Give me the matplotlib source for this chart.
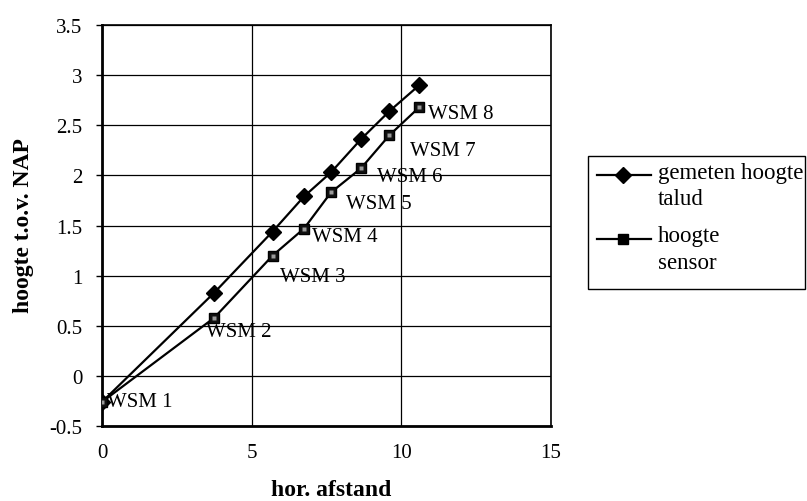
import matplotlib
matplotlib.use("Agg")
import matplotlib.pyplot as plt
from matplotlib.lines import Line2D
from matplotlib.patches import Rectangle

plt.rcParams['font.family'] = ['Liberation Serif', 'DejaVu Serif']

# data
x_afstand = [0.0, 3.75, 5.7, 6.75, 7.65, 8.65, 9.6, 10.6]
gemeten_hoogte = [-0.26, 0.83, 1.44, 1.79, 2.03, 2.36, 2.64, 2.90]
hoogte_sensor = [-0.26, 0.58, 1.20, 1.47, 1.83, 2.07, 2.40, 2.68]
wsm_labels = ["WSM 1", "WSM 2", "WSM 3", "WSM 4", "WSM 5", "WSM 6", "WSM 7", "WSM 8"]
x_ticks = [0, 5, 10, 15]
y_ticks = [-0.5, 0, 0.5, 1, 1.5, 2, 2.5, 3, 3.5]
y_ticklabels = ["-0.5", "0", "0.5", "1", "1.5", "2", "2.5", "3", "3.5"]
legend_lines = [["gemeten hoogte", "talud"], ["hoogte", "sensor"]]

W, H = 807, 502
fig = plt.figure(figsize=(W / 100, H / 100), dpi=100)
L, R, T, B = 102, 551, 26, 427
ax = fig.add_axes([L / W, 1 - B / H, (R - L) / W, (B - T) / H])

ax.set_xlim(0, 15)
ax.set_ylim(-0.5, 3.5)
ax.set_xticks(x_ticks)
ax.set_xticklabels([str(t) for t in x_ticks])
ax.set_yticks(y_ticks)
ax.set_yticklabels(y_ticklabels)
ax.grid(True, color='black', linewidth=0.9)
ax.set_axisbelow(True)

for s in ['left', 'bottom']:
    ax.spines[s].set_linewidth(2.0)
for s in ['top', 'right']:
    ax.spines[s].set_linewidth(1.2)
ax.tick_params(axis='y', direction='out', length=4, width=1, pad=10, labelsize=15)
ax.tick_params(axis='x', direction='out', length=0, pad=12, labelsize=15)

lw = 1.6
ax.plot(x_afstand, gemeten_hoogte, color='black', linewidth=lw, marker='D',
        markersize=8, markerfacecolor='black', markeredgecolor='black', zorder=3)
ax.plot(x_afstand, hoogte_sensor, color='black', linewidth=lw, marker='s',
        markersize=7.5, markerfacecolor='#111111', markeredgecolor='black', zorder=3)
ax.plot(x_afstand, hoogte_sensor, linestyle='none', marker='s', markersize=2.2,
        markerfacecolor='#9a9a9a', markeredgecolor='none', zorder=4)

offsets = [(5, 0), (-8, -14), (7, -21), (8, -8), (15, -11), (16, -8), (21, -15), (9, -6)]
for xv, yv, lab, off in zip(x_afstand, hoogte_sensor, wsm_labels, offsets):
    ax.annotate(lab, (xv, yv), xytext=off, textcoords='offset pixels',
                ha='left', va='center', fontsize=15, zorder=5)

fig.text(331 / W, 1 - 491 / H, "hor. afstand", ha='center', va='center',
         fontsize=17, fontweight='bold')
fig.text(23.5 / W, 1 - 226 / H, "hoogte t.o.v. NAP", ha='center', va='center',
         rotation=90, fontsize=17, fontweight='bold')

# legend (manual, handle aligned with first text line)
def fx(px):
    return px / W

def fy(py):
    return 1 - py / H

fig.add_artist(Rectangle((fx(588), fy(290)), fx(805) - fx(588), fy(157) - fy(290),
                         transform=fig.transFigure, facecolor='white',
                         edgecolor='black', linewidth=1.0))
entries = [(176, 'D', 8, legend_lines[0], (179, 205)),
           (240, 's', 7.5, legend_lines[1], (242, 269))]
for yy, mk, ms, lines, baselines in entries:
    fig.add_artist(Line2D([fx(597), fx(651)], [fy(yy), fy(yy)], transform=fig.transFigure,
                          color='black', linewidth=lw))
    fig.add_artist(Line2D([fx(623)], [fy(yy)], transform=fig.transFigure, marker=mk,
                          markersize=ms, color='black', linestyle='none'))
    for txt, bl in zip(lines, baselines):
        fig.text(fx(658), fy(bl), txt, ha='left', va='baseline', fontsize=16.5)

fig.savefig("out.png", dpi=100)
